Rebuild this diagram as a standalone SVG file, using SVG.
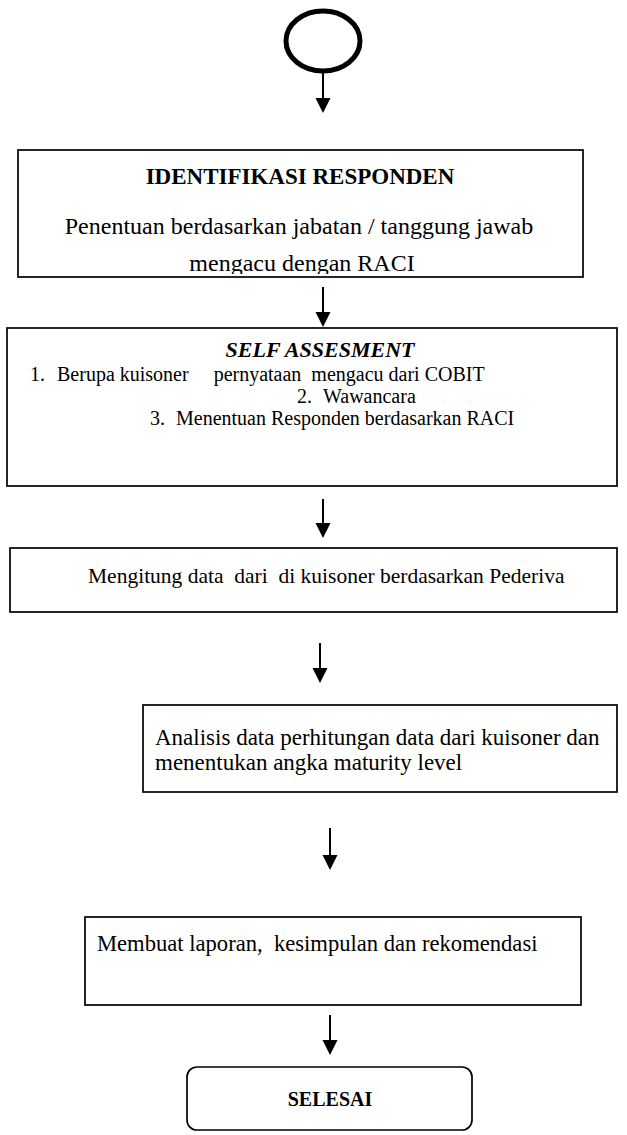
<svg xmlns="http://www.w3.org/2000/svg" width="627" height="1135" viewBox="0 0 627 1135">
<style>
  .box { fill: #fff; stroke: #000; stroke-width: 1.7; }
  .t { font-family: "Liberation Serif", "Times New Roman", serif; fill: #000; white-space: pre; }
  .b { font-weight: bold; }
  .bi { font-weight: bold; font-style: italic; }
  .ln { stroke: #000; stroke-width: 2; }
  .ah { fill: #000; }
</style>
<defs>
  <clipPath id="c1"><rect x="18" y="150" width="565" height="124"/></clipPath>
</defs>

<g id="connectors">
  <path class="ln" d="M323,72 V99"/>
  <polygon class="ah" points="315.5,98 330.5,98 323,113"/>
  <path class="ln" d="M323,287 V313"/>
  <polygon class="ah" points="315.5,312 330.5,312 323,327"/>
  <path class="ln" d="M323,499 V524"/>
  <polygon class="ah" points="315.5,523 330.5,523 323,538"/>
  <path class="ln" d="M320,643 V669"/>
  <polygon class="ah" points="312.5,668 327.5,668 320,683"/>
  <path class="ln" d="M330,828 V856"/>
  <polygon class="ah" points="322.5,855 337.5,855 330,870"/>
  <path class="ln" d="M330,1015 V1041"/>
  <polygon class="ah" points="322.5,1040 337.5,1040 330,1055"/>
</g>

<g id="start">
  <ellipse cx="323" cy="41" rx="37" ry="30" fill="#fff" stroke="#000" stroke-width="5"/>
</g>

<g id="identifikasi">
  <rect class="box" x="18" y="150" width="565" height="127"/>
  <g clip-path="url(#c1)">
    <text class="t b" x="300" y="184" font-size="23" text-anchor="middle">IDENTIFIKASI RESPONDEN</text>
    <text class="t" x="299" y="234" font-size="24" text-anchor="middle">Penentuan berdasarkan jabatan / tanggung jawab</text>
    <text class="t" x="302" y="271" font-size="24" text-anchor="middle">mengacu dengan RACI</text>
  </g>
</g>

<g id="self-assesment">
  <rect class="box" x="7" y="328" width="610" height="158"/>
  <text class="t bi" x="320" y="357" font-size="22" text-anchor="middle">SELF ASSESMENT</text>
  <text class="t" x="30" y="381" font-size="20">1.</text>
  <text class="t" x="57" y="381" font-size="20" xml:space="preserve">Berupa kuisoner     pernyataan  mengacu dari COBIT</text>
  <text class="t" x="297" y="403" font-size="20">2.</text>
  <text class="t" x="323" y="403" font-size="20">Wawancara</text>
  <text class="t" x="150" y="425" font-size="20">3.</text>
  <text class="t" x="176" y="425" font-size="20">Menentuan Responden berdasarkan RACI</text>
</g>

<g id="mengitung">
  <rect class="box" x="10" y="548" width="607" height="64"/>
  <text class="t" x="88" y="583" font-size="21.5" xml:space="preserve">Mengitung data  dari  di kuisoner berdasarkan Pederiva</text>
</g>

<g id="analisis">
  <rect class="box" x="143" y="705" width="474" height="87"/>
  <text class="t" x="155" y="745" font-size="23">Analisis data perhitungan data dari kuisoner dan</text>
  <text class="t" x="155" y="770" font-size="23">menentukan angka maturity level</text>
</g>

<g id="laporan">
  <rect class="box" x="85" y="917" width="496" height="88"/>
  <text class="t" x="97" y="951" font-size="22.6" xml:space="preserve">Membuat laporan,  kesimpulan dan rekomendasi</text>
</g>

<g id="selesai">
  <rect class="box" x="187" y="1067" width="285" height="63" rx="10" ry="10"/>
  <text class="t b" x="330" y="1106" font-size="20" text-anchor="middle">SELESAI</text>
</g>
</svg>
